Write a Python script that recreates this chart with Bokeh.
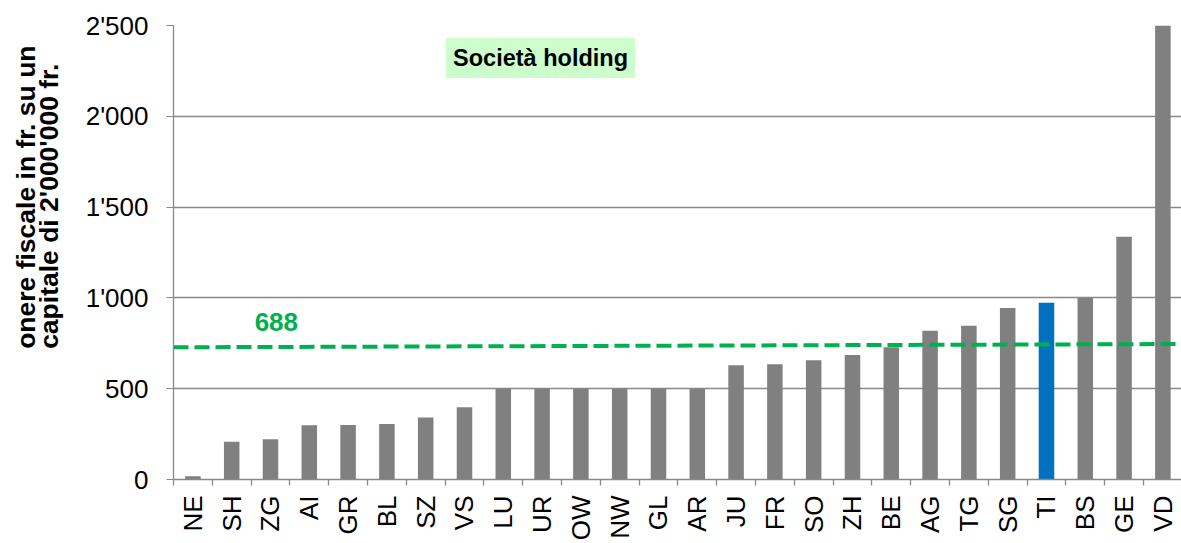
import math
from bokeh.plotting import figure
from bokeh.models import FixedTicker, Label, Range1d, ColumnDataSource, Title
from bokeh.embed import file_html
from bokeh.resources import INLINE

# ---- data ----
cantons = ["NE", "SH", "ZG", "AI", "GR", "BL", "SZ", "VS", "LU", "UR", "OW", "NW", "GL",
           "AR", "JU", "FR", "SO", "ZH", "BE", "AG", "TG", "SG", "TI", "BS", "GE", "VD"]
values = [18, 208, 221, 299, 300, 306, 341, 398, 500, 500, 500, 500, 500,
          500, 629, 634, 656, 686, 728, 819, 846, 944, 973, 1000, 1337, 2500]
highlight = "TI"
avg_label = "688"
avg_line_start_end = [728, 746]
y_ticks = [0, 500, 1000, 1500, 2000, 2500]
y_tick_labels = ["0", "500", "1'000", "1'500", "2'000", "2'500"]
title_text = "Società holding"
ylabel_lines = ["onere fiscale in fr. su un", "capitale  di 2'000'000 fr."]

FONT = "Liberation Sans"
GRID = "#898989"

x_end = 25.98
p = figure(width=1181, height=543, x_range=Range1d(0, x_end), y_range=Range1d(0, 2500),
           output_backend="svg", toolbar_location=None,
           min_border_left=173, min_border_top=25, min_border_right=0, min_border_bottom=10)
p.outline_line_color = None
p.background_fill_color = "white"
p.border_fill_color = "white"

centers = [i + 0.5 for i in range(len(cantons))]
colors = ["#0070C0" if c == highlight else "#808080" for c in cantons]
src = ColumnDataSource(dict(x=centers, top=values, color=colors, name=cantons))
p.vbar(x="x", top="top", bottom=0, width=0.4, fill_color="color", line_color=None, source=src)

# average dashed line
p.line(x=[0, x_end], y=avg_line_start_end, line_color="#00B050", line_width=4, line_dash="15 6")
p.add_layout(Label(x=2.65, y=870, text=avg_label, text_color="#00B050", text_font=FONT,
                   text_font_style="bold", text_font_size="26px", text_align="center",
                   text_baseline="middle"))

# title box
p.add_layout(Label(x=9.46, y=2321, text=title_text, text_color="black", text_font=FONT,
                   text_font_style="bold", text_font_size="23.5px", text_align="center",
                   text_baseline="middle", background_fill_color="#CCFFCC",
                   padding=7))

# grid
p.xgrid.grid_line_color = None
p.ygrid.grid_line_color = GRID
p.ygrid.grid_line_width = 1.3
p.ygrid.ticker = FixedTicker(ticks=y_ticks)

# y axis
p.yaxis.ticker = FixedTicker(ticks=y_ticks)
p.yaxis.major_label_overrides = {t: l for t, l in zip(y_ticks, y_tick_labels)}
p.yaxis.major_label_text_font = FONT
p.yaxis.major_label_text_font_size = "26px"
p.yaxis.major_label_text_color = "black"
p.yaxis.axis_line_color = GRID
p.yaxis.axis_line_width = 1.3
p.yaxis.major_tick_line_color = GRID
p.yaxis.major_tick_out = 7
p.yaxis.major_tick_in = 0
p.yaxis.minor_tick_line_color = None
p.yaxis.major_label_standoff = 18
# blank axis label only used as spacing between tick labels and the title
p.yaxis.axis_label = " "
p.yaxis.axis_label_text_font_size = "1px"
p.yaxis.axis_label_standoff = 14

# x axis
p.xaxis.ticker = FixedTicker(ticks=centers, minor_ticks=list(range(len(cantons) + 1)))
p.xaxis.major_label_overrides = {c: n for c, n in zip(centers, cantons)}
p.xaxis.major_label_orientation = math.pi / 2
p.xaxis.major_label_text_font = FONT
p.xaxis.major_label_text_font_size = "26px"
p.xaxis.major_label_text_color = "black"
p.xaxis.major_tick_line_color = None
p.xaxis.major_tick_out = 0
p.xaxis.major_tick_in = 0
p.xaxis.minor_tick_line_color = GRID
p.xaxis.minor_tick_line_width = 1.3
p.xaxis.minor_tick_out = 6
p.xaxis.minor_tick_in = 0
p.xaxis.axis_line_color = GRID
p.xaxis.axis_line_width = 1.3
p.xaxis.major_label_standoff = 10

# y axis label (two lines in one left-side title)
p.add_layout(Title(text="\n".join(ylabel_lines), align="right", offset=20, text_font=FONT,
                   text_font_style="bold", text_font_size="26.5px", text_color="black",
                   text_line_height=0.77, standoff=0), "left")

open("out.html", "w").write(file_html(p, INLINE))
